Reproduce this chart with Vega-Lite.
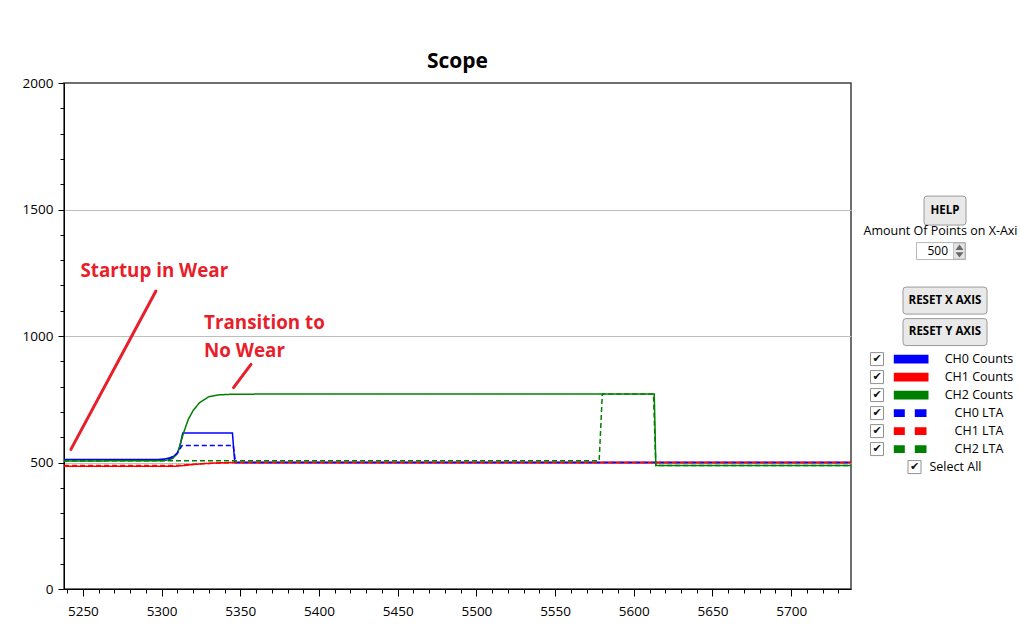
{
  "$schema": "https://vega.github.io/schema/vega-lite/v6.json",
  "background": "white",
  "padding": {"left": 21, "top": 50, "right": 0, "bottom": 0},
  "bounds": "flush",
  "spacing": 9,
  "config": {
    "font": "Open Sans",
    "axis": {"labelFont": "Open Sans", "labelColor": "#000", "tickColor": "#000", "domainColor": "#000"}
  },
  "datasets": {
    "series": [
      {"series": "CH0 Counts", "x": 5238, "v": 512}, {"series": "CH0 Counts", "x": 5298, "v": 512}, {"series": "CH0 Counts", "x": 5302, "v": 514}, {"series": "CH0 Counts", "x": 5305, "v": 518}, {"series": "CH0 Counts", "x": 5308, "v": 526}, {"series": "CH0 Counts", "x": 5310, "v": 538}, {"series": "CH0 Counts", "x": 5311.5, "v": 560}, {"series": "CH0 Counts", "x": 5312.5, "v": 590}, {"series": "CH0 Counts", "x": 5313.5, "v": 617}, {"series": "CH0 Counts", "x": 5345, "v": 617}, {"series": "CH0 Counts", "x": 5346.5, "v": 500}, {"series": "CH0 Counts", "x": 5738, "v": 500},
      {"series": "CH1 Counts", "x": 5238, "v": 485}, {"series": "CH1 Counts", "x": 5308, "v": 485}, {"series": "CH1 Counts", "x": 5314, "v": 488}, {"series": "CH1 Counts", "x": 5320, "v": 492}, {"series": "CH1 Counts", "x": 5326, "v": 495}, {"series": "CH1 Counts", "x": 5334, "v": 498}, {"series": "CH1 Counts", "x": 5345, "v": 500}, {"series": "CH1 Counts", "x": 5738, "v": 500},
      {"series": "CH2 Counts", "x": 5238, "v": 506}, {"series": "CH2 Counts", "x": 5300, "v": 507}, {"series": "CH2 Counts", "x": 5304, "v": 510}, {"series": "CH2 Counts", "x": 5307, "v": 516}, {"series": "CH2 Counts", "x": 5310, "v": 535}, {"series": "CH2 Counts", "x": 5312, "v": 575}, {"series": "CH2 Counts", "x": 5314, "v": 618}, {"series": "CH2 Counts", "x": 5317, "v": 671}, {"series": "CH2 Counts", "x": 5320, "v": 705}, {"series": "CH2 Counts", "x": 5324, "v": 736}, {"series": "CH2 Counts", "x": 5330, "v": 760}, {"series": "CH2 Counts", "x": 5336, "v": 767}, {"series": "CH2 Counts", "x": 5345, "v": 770}, {"series": "CH2 Counts", "x": 5400, "v": 771}, {"series": "CH2 Counts", "x": 5613, "v": 771}, {"series": "CH2 Counts", "x": 5614, "v": 488}, {"series": "CH2 Counts", "x": 5738, "v": 488},
      {"series": "CH0 LTA", "x": 5238, "v": 510}, {"series": "CH0 LTA", "x": 5298, "v": 510}, {"series": "CH0 LTA", "x": 5302, "v": 512}, {"series": "CH0 LTA", "x": 5305, "v": 516}, {"series": "CH0 LTA", "x": 5308, "v": 524}, {"series": "CH0 LTA", "x": 5310, "v": 536}, {"series": "CH0 LTA", "x": 5311.5, "v": 552}, {"series": "CH0 LTA", "x": 5313, "v": 567}, {"series": "CH0 LTA", "x": 5345.5, "v": 567}, {"series": "CH0 LTA", "x": 5347, "v": 500}, {"series": "CH0 LTA", "x": 5738, "v": 500},
      {"series": "CH1 LTA", "x": 5238, "v": 488}, {"series": "CH1 LTA", "x": 5308, "v": 488}, {"series": "CH1 LTA", "x": 5316, "v": 491}, {"series": "CH1 LTA", "x": 5325, "v": 495}, {"series": "CH1 LTA", "x": 5335, "v": 498}, {"series": "CH1 LTA", "x": 5347, "v": 500}, {"series": "CH1 LTA", "x": 5738, "v": 500},
      {"series": "CH2 LTA", "x": 5238, "v": 507}, {"series": "CH2 LTA", "x": 5578, "v": 507}, {"series": "CH2 LTA", "x": 5580, "v": 771}, {"series": "CH2 LTA", "x": 5612.5, "v": 771}, {"series": "CH2 LTA", "x": 5614, "v": 488}, {"series": "CH2 LTA", "x": 5738, "v": 488}
    ],
    "notes": [
      {"text": "Startup in Wear", "x": 5248.5, "v": 1257},
      {"text": "Transition to", "x": 5327, "v": 1051},
      {"text": "No Wear", "x": 5327, "v": 941}
    ],
    "arrows": [
      {"x": 5242.4, "v": 552, "x2": 5296.4, "v2": 1178},
      {"x": 5345.7, "v": 796, "x2": 5356.8, "v2": 888}
    ],
    "controls": [
      {"item": "HELP", "label": "HELP", "kind": "help"},
      {"item": "Amount", "label": "Amount Of Points on X-Axi", "kind": "caption"},
      {"item": "Points", "label": "500", "kind": "input"},
      {"item": "RESET X AXIS", "label": "RESET X AXIS", "kind": "reset"},
      {"item": "RESET Y AXIS", "label": "RESET Y AXIS", "kind": "reset"},
      {"item": "Select All", "label": "Select All", "kind": "selectall"}
    ],
    "legend": [
      {"item": "CH0 Counts", "series": "CH0 Counts"},
      {"item": "CH1 Counts", "series": "CH1 Counts"},
      {"item": "CH2 Counts", "series": "CH2 Counts"},
      {"item": "CH0 LTA", "series": "CH0 LTA"},
      {"item": "CH1 LTA", "series": "CH1 LTA"},
      {"item": "CH2 LTA", "series": "CH2 LTA"}
    ]
  },
  "resolve": {"scale": {"x": "independent", "y": "independent", "color": "shared"}},
  "hconcat": [
    {
      "width": 787,
      "height": 506,
      "title": {"text": "Scope", "fontSize": 21, "fontWeight": "bold", "font": "Open Sans", "color": "#000", "anchor": "middle", "frame": "group", "offset": 4},
      "view": {"stroke": "#404040", "strokeWidth": 1.5},
      "layer": [
        {
          "data": {"name": "series"},
          "mark": {"type": "line", "strokeWidth": 1.5, "clip": true},
          "encoding": {
            "x": {
              "field": "x", "type": "quantitative", "title": null,
              "scale": {"domain": [5238, 5738], "nice": false, "zero": false},
              "axis": {
                "values": [5240, 5250, 5260, 5270, 5280, 5290, 5300, 5310, 5320, 5330, 5340, 5350, 5360, 5370, 5380, 5390, 5400, 5410, 5420, 5430, 5440, 5450, 5460, 5470, 5480, 5490, 5500, 5510, 5520, 5530, 5540, 5550, 5560, 5570, 5580, 5590, 5600, 5610, 5620, 5630, 5640, 5650, 5660, 5670, 5680, 5690, 5700, 5710, 5720, 5730],
                "tickCount": 200,
                "format": "d",
                "labelExpr": "datum.value % 50 === 0 ? datum.label : ''",
                "tickSize": {"condition": {"test": "datum.value % 50 === 0", "value": 7}, "value": 4},
                "labelFontSize": 13.5, "labelPadding": 8.5, "labelOverlap": false, "labelFlush": false, "grid": false
              }
            },
            "y": {
              "field": "v", "type": "quantitative", "title": null,
              "scale": {"domain": [0, 2000], "nice": false},
              "axis": {
                "values": [0, 100, 200, 300, 400, 500, 600, 700, 800, 900, 1000, 1100, 1200, 1300, 1400, 1500, 1600, 1700, 1800, 1900, 2000],
                "tickCount": 200,
                "format": "d",
                "labelExpr": "datum.value % 500 === 0 ? datum.label : ''",
                "tickSize": {"condition": {"test": "datum.value % 500 === 0", "value": 6}, "value": 4},
                "labelFontSize": 13.5, "labelPadding": 5, "labelOverlap": false, "labelFlush": false,
                "grid": true, "gridColor": "#BDBDBD",
                "gridOpacity": {"condition": {"test": "datum.value % 500 === 0 && datum.value > 0 && datum.value < 2000", "value": 1}, "value": 0}
              }
            },
            "color": {
              "field": "series", "type": "nominal", "legend": null,
              "scale": {"domain": ["CH0 Counts", "CH1 Counts", "CH2 Counts", "CH0 LTA", "CH1 LTA", "CH2 LTA"], "range": ["#0000FF", "#FF0000", "#008000", "#0000FF", "#FF0000", "#008000"]}
            },
            "strokeDash": {
              "field": "series", "type": "nominal", "legend": null,
              "scale": {"domain": ["CH0 Counts", "CH1 Counts", "CH2 Counts", "CH0 LTA", "CH1 LTA", "CH2 LTA"], "range": [[1, 0], [1, 0], [1, 0], [5, 3], [5, 3], [5, 3]]}
            }
          }
        },
        {
          "data": {"name": "arrows"},
          "mark": {"type": "rule", "color": "#E81E2A", "strokeWidth": 3, "strokeCap": "round"},
          "encoding": {
            "x": {"field": "x", "type": "quantitative", "title": null},
            "y": {"field": "v", "type": "quantitative", "title": null},
            "x2": {"field": "x2"},
            "y2": {"field": "v2"}
          }
        },
        {
          "data": {"name": "notes"},
          "mark": {"type": "text", "align": "left", "baseline": "middle", "font": "Open Sans", "fontSize": 18.8, "fontWeight": "bold", "color": "#E81E2A"},
          "encoding": {
            "x": {"field": "x", "type": "quantitative", "title": null},
            "y": {"field": "v", "type": "quantitative", "title": null},
            "text": {"field": "text"}
          }
        }
      ]
    },
    {
      "width": {"step": 34},
      "height": {"step": 4.5},
      "view": {"stroke": null},
      "layer": [
        {
          "data": {"name": "legend"},
          "mark": {"type": "point", "shape": "square", "filled": true, "fill": "white", "stroke": "#666", "strokeWidth": 1, "size": 169},
          "encoding": {
            "x": {"datum": "box", "type": "nominal", "axis": null, "scale": {"domain": ["box", "swatch", "mid", "label"], "padding": 0.5}},
            "y": {"field": "item", "type": "nominal", "axis": null, "scale": {"padding": 0.35, "domain": ["_0", "_1", "_2", "_3", "_4", "_5", "_6", "_7", "_8", "_9", "_10", "_11", "_12", "_13", "_14", "_15", "_16", "_17", "_18", "_19", "_20", "_21", "_22", "_23", "_24", "_25", "_26", "_27", "HELP", "_29", "_30", "_31", "_32", "Amount", "_34", "_35", "_36", "Points", "_38", "_39", "_40", "_41", "_42", "_43", "_44", "_45", "_46", "_47", "RESET X AXIS", "_49", "_50", "_51", "_52", "_53", "_54", "RESET Y AXIS", "_56", "_57", "_58", "_59", "_60", "CH0 Counts", "_62", "_63", "_64", "CH1 Counts", "_66", "_67", "_68", "CH2 Counts", "_70", "_71", "_72", "CH0 LTA", "_74", "_75", "_76", "CH1 LTA", "_78", "_79", "_80", "CH2 LTA", "_82", "_83", "_84", "Select All"]}}
          }
        },
        {
          "data": {"name": "legend"},
          "mark": {"type": "text", "text": "✔", "font": "DejaVu Sans", "fontSize": 11, "color": "#111", "align": "center", "baseline": "middle"},
          "encoding": {
            "x": {"datum": "box", "type": "nominal", "axis": null},
            "y": {"field": "item", "type": "nominal", "axis": null}
          }
        },
        {
          "data": {"name": "legend"},
          "mark": {"type": "point", "filled": true, "size": 1225, "strokeWidth": 0, "opacity": 1},
          "encoding": {
            "x": {"datum": "swatch", "type": "nominal", "axis": null},
            "y": {"field": "item", "type": "nominal", "axis": null},
            "color": {"field": "series", "type": "nominal", "legend": null},
            "shape": {
              "field": "series", "type": "nominal", "legend": null,
              "scale": {
                "domain": ["CH0 Counts", "CH1 Counts", "CH2 Counts", "CH0 LTA", "CH1 LTA", "CH2 LTA"],
                "range": [
                  "M-0.983,-0.249H1V0.249H-0.983Z",
                  "M-0.983,-0.249H1V0.249H-0.983Z",
                  "M-0.983,-0.249H1V0.249H-0.983Z",
                  "M-0.983,-0.22H-0.354V0.22H-0.983Z M0.217,-0.22H0.886V0.22H0.217Z",
                  "M-0.983,-0.22H-0.354V0.22H-0.983Z M0.217,-0.22H0.886V0.22H0.217Z",
                  "M-0.983,-0.22H-0.354V0.22H-0.983Z M0.217,-0.22H0.886V0.22H0.217Z"
                ]
              }
            }
          }
        },
        {
          "data": {"name": "legend"},
          "mark": {"type": "text", "font": "Open Sans", "fontSize": 12.5, "color": "#000", "align": "center", "baseline": "middle"},
          "encoding": {
            "x": {"datum": "label", "type": "nominal", "axis": null},
            "y": {"field": "item", "type": "nominal", "axis": null},
            "text": {"field": "item"}
          }
        },
        {
          "data": {"name": "controls"},
          "transform": [{"filter": "datum.kind === 'help'"}],
          "mark": {"type": "point", "filled": true, "fill": "#E1E1E1", "stroke": "#707070", "strokeWidth": 1, "size": 1764, "shape": "M-0.857,-0.69H0.857Q1,-0.69 1,-0.547V0.547Q1,0.69 0.857,0.69H-0.857Q-1,0.69 -1,0.547V-0.547Q-1,-0.69 -0.857,-0.69Z"},
          "encoding": {
            "x": {"datum": "mid", "type": "nominal", "axis": null},
            "y": {"field": "item", "type": "nominal", "axis": null}
          }
        },
        {
          "data": {"name": "controls"},
          "transform": [{"filter": "datum.kind === 'reset'"}],
          "mark": {"type": "point", "filled": true, "fill": "#E1E1E1", "stroke": "#707070", "strokeWidth": 1, "size": 7056, "shape": "M-0.929,-0.321H0.929Q1,-0.321 1,-0.25V0.25Q1,0.321 0.929,0.321H-0.929Q-1,0.321 -1,0.25V-0.25Q-1,-0.321 -0.929,-0.321Z"},
          "encoding": {
            "x": {"datum": "mid", "type": "nominal", "axis": null},
            "y": {"field": "item", "type": "nominal", "axis": null}
          }
        },
        {
          "data": {"name": "controls"},
          "transform": [{"filter": "datum.kind === 'help' || datum.kind === 'reset'"}],
          "mark": {"type": "text", "font": "Open Sans", "fontSize": 11.5, "fontWeight": "bold", "color": "#000", "align": "center", "baseline": "middle"},
          "encoding": {
            "x": {"datum": "mid", "type": "nominal", "axis": null},
            "y": {"field": "item", "type": "nominal", "axis": null},
            "text": {"field": "label"}
          }
        },
        {
          "data": {"name": "controls"},
          "transform": [{"filter": "datum.kind === 'caption'"}],
          "mark": {"type": "text", "font": "Open Sans", "fontSize": 12.5, "color": "#000", "align": "center", "baseline": "middle", "dx": -4.5, "dy": -2},
          "encoding": {
            "x": {"datum": "mid", "type": "nominal", "axis": null},
            "y": {"field": "item", "type": "nominal", "axis": null},
            "text": {"field": "label"}
          }
        },
        {
          "data": {"name": "controls"},
          "transform": [{"filter": "datum.kind === 'input'"}],
          "mark": {"type": "point", "filled": true, "fill": "white", "stroke": "#9A9A9A", "strokeWidth": 1, "size": 3249, "shape": "M-1,-0.298H0.719V0.298H-1Z"},
          "encoding": {
            "x": {"datum": "mid", "type": "nominal", "axis": null},
            "y": {"field": "item", "type": "nominal", "axis": null}
          }
        },
        {
          "data": {"name": "controls"},
          "transform": [{"filter": "datum.kind === 'input'"}],
          "mark": {"type": "point", "filled": true, "fill": "#DADADA", "stroke": "#9A9A9A", "strokeWidth": 0.8, "size": 3249, "shape": "M0.298,-0.28H0.7V0.28H0.298Z"},
          "encoding": {
            "x": {"datum": "mid", "type": "nominal", "axis": null},
            "y": {"field": "item", "type": "nominal", "axis": null}
          }
        },
        {
          "data": {"name": "controls"},
          "transform": [{"filter": "datum.kind === 'input'"}],
          "mark": {"type": "point", "filled": true, "fill": "#333", "strokeWidth": 0, "size": 3249, "shape": "M0.369,-0.04L0.509,-0.228L0.649,-0.04Z M0.369,0.04L0.509,0.228L0.649,0.04Z"},
          "encoding": {
            "x": {"datum": "mid", "type": "nominal", "axis": null},
            "y": {"field": "item", "type": "nominal", "axis": null}
          }
        },
        {
          "data": {"name": "controls"},
          "transform": [{"filter": "datum.kind === 'input'"}],
          "mark": {"type": "text", "font": "Open Sans", "fontSize": 12, "color": "#000", "align": "right", "baseline": "middle", "dx": 3},
          "encoding": {
            "x": {"datum": "mid", "type": "nominal", "axis": null},
            "y": {"field": "item", "type": "nominal", "axis": null},
            "text": {"field": "label"}
          }
        },
        {
          "data": {"name": "controls"},
          "transform": [{"filter": "datum.kind === 'selectall'"}],
          "mark": {"type": "point", "filled": true, "fill": "white", "stroke": "#666", "strokeWidth": 1, "size": 400, "shape": "M-0.3,-0.65H1V0.65H-0.3Z"},
          "encoding": {
            "x": {"datum": "swatch", "type": "nominal", "axis": null},
            "y": {"field": "item", "type": "nominal", "axis": null}
          }
        },
        {
          "data": {"name": "controls"},
          "transform": [{"filter": "datum.kind === 'selectall'"}],
          "mark": {"type": "text", "text": "✔", "font": "DejaVu Sans", "fontSize": 11, "color": "#111", "align": "center", "baseline": "middle", "dx": 3.5},
          "encoding": {
            "x": {"datum": "swatch", "type": "nominal", "axis": null},
            "y": {"field": "item", "type": "nominal", "axis": null}
          }
        },
        {
          "data": {"name": "controls"},
          "transform": [{"filter": "datum.kind === 'selectall'"}],
          "mark": {"type": "text", "font": "Open Sans", "fontSize": 12.5, "color": "#000", "align": "left", "baseline": "middle", "dx": -15.5},
          "encoding": {
            "x": {"datum": "mid", "type": "nominal", "axis": null},
            "y": {"field": "item", "type": "nominal", "axis": null},
            "text": {"field": "label"}
          }
        }
      ]
    }
  ]
}
